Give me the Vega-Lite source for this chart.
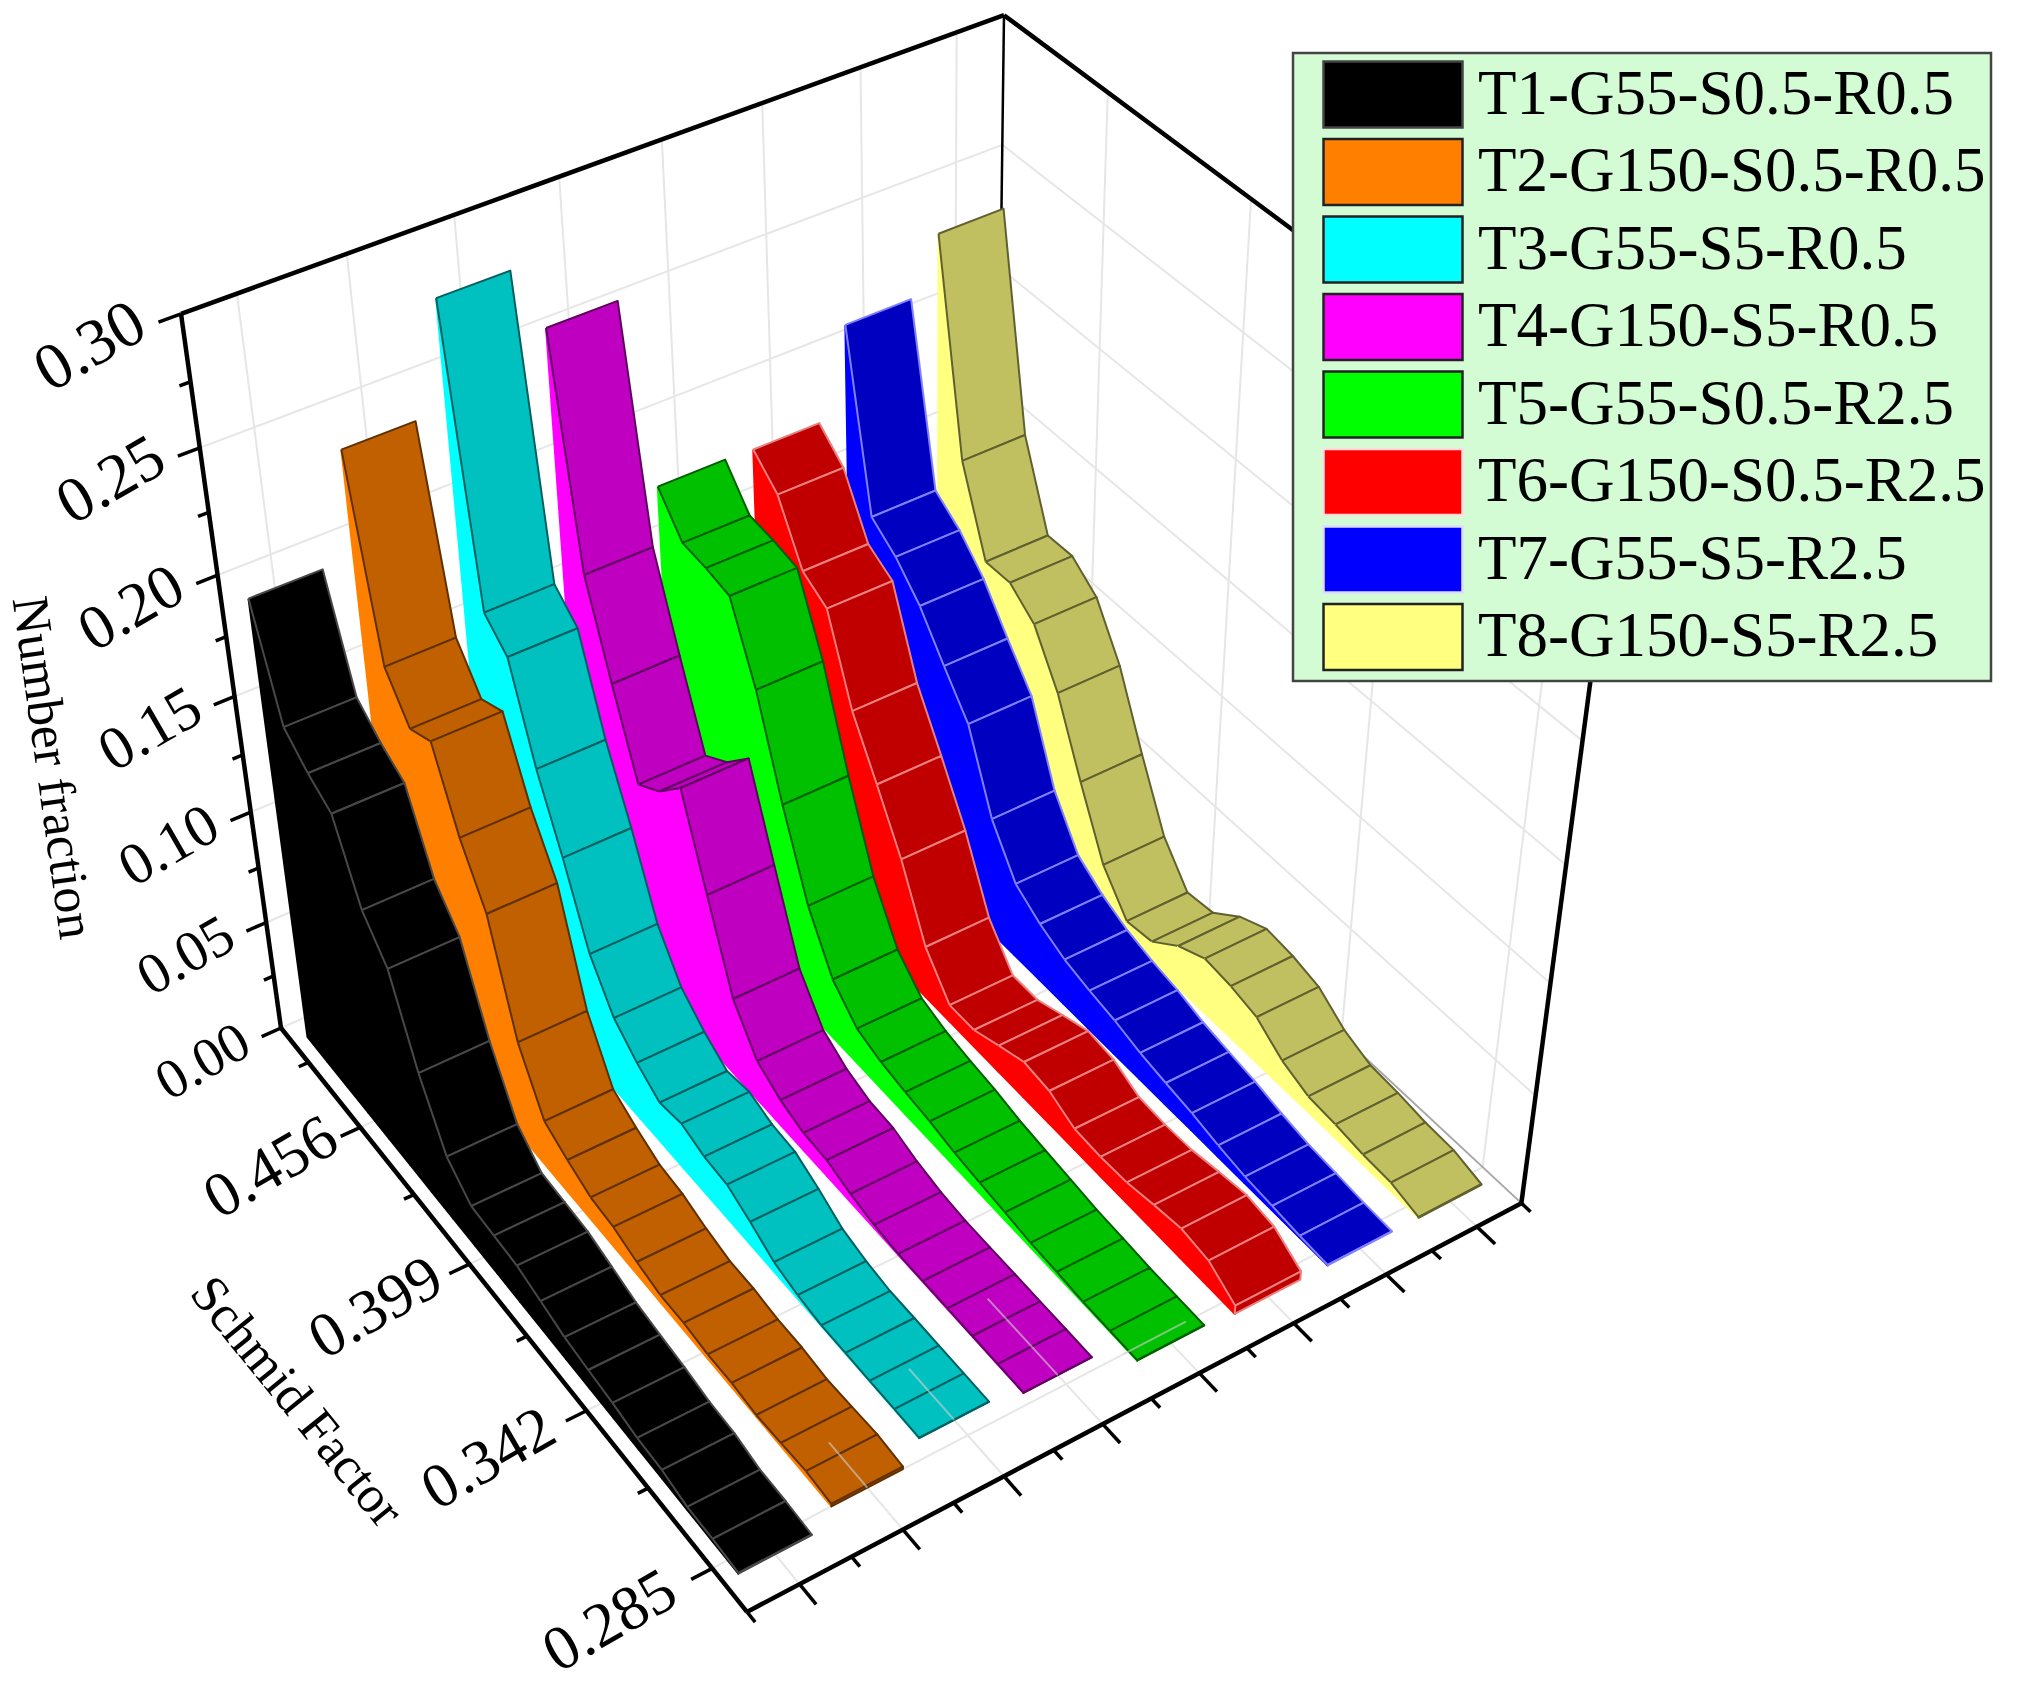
{"$schema":"https://vega.github.io/schema/vega-lite/v6.json","width":2019,"height":1686,"padding":0,"autosize":{"type":"none"},"background":"#ffffff","config":{"view":{"stroke":null},"legend":{"strokeWidth":2.5}},
"datasets":{
"ribbons":[
{"series":"T8-G150-S5-R2.5","pos":7.5,"schmid":0.4931,"fraction":0.2315},{"series":"T8-G150-S5-R2.5","pos":7.5,"schmid":0.4819,"fraction":0.1459},{"series":"T8-G150-S5-R2.5","pos":7.5,"schmid":0.4707,"fraction":0.1111},{"series":"T8-G150-S5-R2.5","pos":7.5,"schmid":0.4595,"fraction":0.1114},{"series":"T8-G150-S5-R2.5","pos":7.5,"schmid":0.4483,"fraction":0.1028},{"series":"T8-G150-S5-R2.5","pos":7.5,"schmid":0.4371,"fraction":0.0819},{"series":"T8-G150-S5-R2.5","pos":7.5,"schmid":0.4259,"fraction":0.0516},{"series":"T8-G150-S5-R2.5","pos":7.5,"schmid":0.4147,"fraction":0.0236},{"series":"T8-G150-S5-R2.5","pos":7.5,"schmid":0.4035,"fraction":0.008},{"series":"T8-G150-S5-R2.5","pos":7.5,"schmid":0.3923,"fraction":0.0096},{"series":"T8-G150-S5-R2.5","pos":7.5,"schmid":0.3811,"fraction":0.019},{"series":"T8-G150-S5-R2.5","pos":7.5,"schmid":0.3699,"fraction":0.0246},{"series":"T8-G150-S5-R2.5","pos":7.5,"schmid":0.3587,"fraction":0.0233},{"series":"T8-G150-S5-R2.5","pos":7.5,"schmid":0.3476,"fraction":0.0203},{"series":"T8-G150-S5-R2.5","pos":7.5,"schmid":0.3364,"fraction":0.0118},{"series":"T8-G150-S5-R2.5","pos":7.5,"schmid":0.3252,"fraction":0.007},{"series":"T8-G150-S5-R2.5","pos":7.5,"schmid":0.314,"fraction":0.0061},{"series":"T8-G150-S5-R2.5","pos":7.5,"schmid":0.3028,"fraction":0.0044},{"series":"T8-G150-S5-R2.5","pos":7.5,"schmid":0.2916,"fraction":0.0038},{"series":"T8-G150-S5-R2.5","pos":7.5,"schmid":0.2804,"fraction":0.0003},{"series":"T8-G150-S5-R2.5","pos":7.5,"schmid":0.2804,"fraction":0},
{"series":"T7-G55-S5-R2.5","pos":6.5,"schmid":0.4931,"fraction":0.2094},{"series":"T7-G55-S5-R2.5","pos":6.5,"schmid":0.4819,"fraction":0.1378},{"series":"T7-G55-S5-R2.5","pos":6.5,"schmid":0.4707,"fraction":0.1299},{"series":"T7-G55-S5-R2.5","pos":6.5,"schmid":0.4595,"fraction":0.1181},{"series":"T7-G55-S5-R2.5","pos":6.5,"schmid":0.4483,"fraction":0.1015},{"series":"T7-G55-S5-R2.5","pos":6.5,"schmid":0.4371,"fraction":0.0858},{"series":"T7-G55-S5-R2.5","pos":6.5,"schmid":0.4259,"fraction":0.0531},{"series":"T7-G55-S5-R2.5","pos":6.5,"schmid":0.4147,"fraction":0.0339},{"series":"T7-G55-S5-R2.5","pos":6.5,"schmid":0.4035,"fraction":0.0263},{"series":"T7-G55-S5-R2.5","pos":6.5,"schmid":0.3923,"fraction":0.021},{"series":"T7-G55-S5-R2.5","pos":6.5,"schmid":0.3811,"fraction":0.0179},{"series":"T7-G55-S5-R2.5","pos":6.5,"schmid":0.3699,"fraction":0.0156},{"series":"T7-G55-S5-R2.5","pos":6.5,"schmid":0.3587,"fraction":0.0122},{"series":"T7-G55-S5-R2.5","pos":6.5,"schmid":0.3476,"fraction":0.01},{"series":"T7-G55-S5-R2.5","pos":6.5,"schmid":0.3364,"fraction":0.008},{"series":"T7-G55-S5-R2.5","pos":6.5,"schmid":0.3252,"fraction":0.0052},{"series":"T7-G55-S5-R2.5","pos":6.5,"schmid":0.314,"fraction":0.003},{"series":"T7-G55-S5-R2.5","pos":6.5,"schmid":0.3028,"fraction":0.002},{"series":"T7-G55-S5-R2.5","pos":6.5,"schmid":0.2916,"fraction":0.0008},{"series":"T7-G55-S5-R2.5","pos":6.5,"schmid":0.2804,"fraction":0.0002},{"series":"T7-G55-S5-R2.5","pos":6.5,"schmid":0.2804,"fraction":0},
{"series":"T6-G150-S0.5-R2.5","pos":5.5,"schmid":0.4931,"fraction":0.1734},{"series":"T6-G150-S0.5-R2.5","pos":5.5,"schmid":0.4819,"fraction":0.1636},{"series":"T6-G150-S0.5-R2.5","pos":5.5,"schmid":0.4707,"fraction":0.1404},{"series":"T6-G150-S0.5-R2.5","pos":5.5,"schmid":0.4595,"fraction":0.134},{"series":"T6-G150-S0.5-R2.5","pos":5.5,"schmid":0.4483,"fraction":0.0992},{"series":"T6-G150-S0.5-R2.5","pos":5.5,"schmid":0.4371,"fraction":0.0768},{"series":"T6-G150-S0.5-R2.5","pos":5.5,"schmid":0.4259,"fraction":0.0534},{"series":"T6-G150-S0.5-R2.5","pos":5.5,"schmid":0.4147,"fraction":0.0238},{"series":"T6-G150-S0.5-R2.5","pos":5.5,"schmid":0.4035,"fraction":0.0078},{"series":"T6-G150-S0.5-R2.5","pos":5.5,"schmid":0.3923,"fraction":0.0078},{"series":"T6-G150-S0.5-R2.5","pos":5.5,"schmid":0.3811,"fraction":0.0124},{"series":"T6-G150-S0.5-R2.5","pos":5.5,"schmid":0.3699,"fraction":0.0167},{"series":"T6-G150-S0.5-R2.5","pos":5.5,"schmid":0.3587,"fraction":0.0152},{"series":"T6-G150-S0.5-R2.5","pos":5.5,"schmid":0.3476,"fraction":0.0096},{"series":"T6-G150-S0.5-R2.5","pos":5.5,"schmid":0.3364,"fraction":0.0089},{"series":"T6-G150-S0.5-R2.5","pos":5.5,"schmid":0.3252,"fraction":0.0095},{"series":"T6-G150-S0.5-R2.5","pos":5.5,"schmid":0.314,"fraction":0.0118},{"series":"T6-G150-S0.5-R2.5","pos":5.5,"schmid":0.3028,"fraction":0.0137},{"series":"T6-G150-S0.5-R2.5","pos":5.5,"schmid":0.2916,"fraction":0.0118},{"series":"T6-G150-S0.5-R2.5","pos":5.5,"schmid":0.2804,"fraction":0.0039},{"series":"T6-G150-S0.5-R2.5","pos":5.5,"schmid":0.2804,"fraction":0},
{"series":"T5-G55-S0.5-R2.5","pos":4.5,"schmid":0.4931,"fraction":0.1739},{"series":"T5-G55-S0.5-R2.5","pos":4.5,"schmid":0.482,"fraction":0.1595},{"series":"T5-G55-S0.5-R2.5","pos":4.5,"schmid":0.4708,"fraction":0.1584},{"series":"T5-G55-S0.5-R2.5","pos":4.5,"schmid":0.4597,"fraction":0.1562},{"series":"T5-G55-S0.5-R2.5","pos":4.5,"schmid":0.4485,"fraction":0.1261},{"series":"T5-G55-S0.5-R2.5","pos":4.5,"schmid":0.4374,"fraction":0.0859},{"series":"T5-G55-S0.5-R2.5","pos":4.5,"schmid":0.4263,"fraction":0.0509},{"series":"T5-G55-S0.5-R2.5","pos":4.5,"schmid":0.4152,"fraction":0.028},{"series":"T5-G55-S0.5-R2.5","pos":4.5,"schmid":0.404,"fraction":0.0166},{"series":"T5-G55-S0.5-R2.5","pos":4.5,"schmid":0.3929,"fraction":0.0127},{"series":"T5-G55-S0.5-R2.5","pos":4.5,"schmid":0.3817,"fraction":0.0106},{"series":"T5-G55-S0.5-R2.5","pos":4.5,"schmid":0.3706,"fraction":0.009},{"series":"T5-G55-S0.5-R2.5","pos":4.5,"schmid":0.3595,"fraction":0.0065},{"series":"T5-G55-S0.5-R2.5","pos":4.5,"schmid":0.3483,"fraction":0.005},{"series":"T5-G55-S0.5-R2.5","pos":4.5,"schmid":0.3372,"fraction":0.0036},{"series":"T5-G55-S0.5-R2.5","pos":4.5,"schmid":0.3261,"fraction":0.0021},{"series":"T5-G55-S0.5-R2.5","pos":4.5,"schmid":0.3149,"fraction":0.0015},{"series":"T5-G55-S0.5-R2.5","pos":4.5,"schmid":0.3038,"fraction":0.0006},{"series":"T5-G55-S0.5-R2.5","pos":4.5,"schmid":0.2926,"fraction":0.0004},{"series":"T5-G55-S0.5-R2.5","pos":4.5,"schmid":0.2815,"fraction":0.0002},{"series":"T5-G55-S0.5-R2.5","pos":4.5,"schmid":0.2815,"fraction":0},
{"series":"T4-G150-S5-R0.5","pos":3.5,"schmid":0.4931,"fraction":0.253},{"series":"T4-G150-S5-R0.5","pos":3.5,"schmid":0.4823,"fraction":0.1624},{"series":"T4-G150-S5-R0.5","pos":3.5,"schmid":0.4715,"fraction":0.1255},{"series":"T4-G150-S5-R0.5","pos":3.5,"schmid":0.4608,"fraction":0.0912},{"series":"T4-G150-S5-R0.5","pos":3.5,"schmid":0.45,"fraction":0.0984},{"series":"T4-G150-S5-R0.5","pos":3.5,"schmid":0.4392,"fraction":0.1102},{"series":"T4-G150-S5-R0.5","pos":3.5,"schmid":0.4285,"fraction":0.0731},{"series":"T4-G150-S5-R0.5","pos":3.5,"schmid":0.4177,"fraction":0.0365},{"series":"T4-G150-S5-R0.5","pos":3.5,"schmid":0.4069,"fraction":0.0189},{"series":"T4-G150-S5-R0.5","pos":3.5,"schmid":0.3961,"fraction":0.0122},{"series":"T4-G150-S5-R0.5","pos":3.5,"schmid":0.3854,"fraction":0.0085},{"series":"T4-G150-S5-R0.5","pos":3.5,"schmid":0.3746,"fraction":0.0077},{"series":"T4-G150-S5-R0.5","pos":3.5,"schmid":0.3638,"fraction":0.0039},{"series":"T4-G150-S5-R0.5","pos":3.5,"schmid":0.3531,"fraction":0.0015},{"series":"T4-G150-S5-R0.5","pos":3.5,"schmid":0.3423,"fraction":0.0004},{"series":"T4-G150-S5-R0.5","pos":3.5,"schmid":0.3315,"fraction":0.0003},{"series":"T4-G150-S5-R0.5","pos":3.5,"schmid":0.3207,"fraction":0.0003},{"series":"T4-G150-S5-R0.5","pos":3.5,"schmid":0.31,"fraction":0.0002},{"series":"T4-G150-S5-R0.5","pos":3.5,"schmid":0.2992,"fraction":0.0002},{"series":"T4-G150-S5-R0.5","pos":3.5,"schmid":0.2884,"fraction":0.0001},{"series":"T4-G150-S5-R0.5","pos":3.5,"schmid":0.2884,"fraction":0},
{"series":"T3-G55-S5-R0.5","pos":2.5,"schmid":0.4931,"fraction":0.2792},{"series":"T3-G55-S5-R0.5","pos":2.5,"schmid":0.4825,"fraction":0.1634},{"series":"T3-G55-S5-R0.5","pos":2.5,"schmid":0.4718,"fraction":0.1542},{"series":"T3-G55-S5-R0.5","pos":2.5,"schmid":0.4611,"fraction":0.1161},{"series":"T3-G55-S5-R0.5","pos":2.5,"schmid":0.4505,"fraction":0.0872},{"series":"T3-G55-S5-R0.5","pos":2.5,"schmid":0.4398,"fraction":0.0544},{"series":"T3-G55-S5-R0.5","pos":2.5,"schmid":0.4292,"fraction":0.0359},{"series":"T3-G55-S5-R0.5","pos":2.5,"schmid":0.4185,"fraction":0.0264},{"series":"T3-G55-S5-R0.5","pos":2.5,"schmid":0.4079,"fraction":0.0193},{"series":"T3-G55-S5-R0.5","pos":2.5,"schmid":0.3972,"fraction":0.0212},{"series":"T3-G55-S5-R0.5","pos":2.5,"schmid":0.3866,"fraction":0.0176},{"series":"T3-G55-S5-R0.5","pos":2.5,"schmid":0.3759,"fraction":0.0166},{"series":"T3-G55-S5-R0.5","pos":2.5,"schmid":0.3653,"fraction":0.0112},{"series":"T3-G55-S5-R0.5","pos":2.5,"schmid":0.3546,"fraction":0.0047},{"series":"T3-G55-S5-R0.5","pos":2.5,"schmid":0.3439,"fraction":0.0018},{"series":"T3-G55-S5-R0.5","pos":2.5,"schmid":0.3333,"fraction":0.0002},{"series":"T3-G55-S5-R0.5","pos":2.5,"schmid":0.3226,"fraction":0.0003},{"series":"T3-G55-S5-R0.5","pos":2.5,"schmid":0.312,"fraction":0.0002},{"series":"T3-G55-S5-R0.5","pos":2.5,"schmid":0.3013,"fraction":0.0002},{"series":"T3-G55-S5-R0.5","pos":2.5,"schmid":0.2907,"fraction":0.0001},{"series":"T3-G55-S5-R0.5","pos":2.5,"schmid":0.2907,"fraction":0},
{"series":"T2-G150-S0.5-R0.5","pos":1.5,"schmid":0.4931,"fraction":0.2367},{"series":"T2-G150-S0.5-R0.5","pos":1.5,"schmid":0.4822,"fraction":0.1583},{"series":"T2-G150-S0.5-R0.5","pos":1.5,"schmid":0.4712,"fraction":0.1422},{"series":"T2-G150-S0.5-R0.5","pos":1.5,"schmid":0.4602,"fraction":0.1471},{"series":"T2-G150-S0.5-R0.5","pos":1.5,"schmid":0.4493,"fraction":0.1162},{"series":"T2-G150-S0.5-R0.5","pos":1.5,"schmid":0.4383,"fraction":0.0938},{"series":"T2-G150-S0.5-R0.5","pos":1.5,"schmid":0.4274,"fraction":0.0472},{"series":"T2-G150-S0.5-R0.5","pos":1.5,"schmid":0.4164,"fraction":0.0225},{"series":"T2-G150-S0.5-R0.5","pos":1.5,"schmid":0.4055,"fraction":0.0164},{"series":"T2-G150-S0.5-R0.5","pos":1.5,"schmid":0.3945,"fraction":0.0113},{"series":"T2-G150-S0.5-R0.5","pos":1.5,"schmid":0.3836,"fraction":0.0099},{"series":"T2-G150-S0.5-R0.5","pos":1.5,"schmid":0.3726,"fraction":0.0062},{"series":"T2-G150-S0.5-R0.5","pos":1.5,"schmid":0.3616,"fraction":0.0036},{"series":"T2-G150-S0.5-R0.5","pos":1.5,"schmid":0.3507,"fraction":0.0036},{"series":"T2-G150-S0.5-R0.5","pos":1.5,"schmid":0.3397,"fraction":0.0022},{"series":"T2-G150-S0.5-R0.5","pos":1.5,"schmid":0.3288,"fraction":0.0022},{"series":"T2-G150-S0.5-R0.5","pos":1.5,"schmid":0.3178,"fraction":0.0008},{"series":"T2-G150-S0.5-R0.5","pos":1.5,"schmid":0.3069,"fraction":0.0015},{"series":"T2-G150-S0.5-R0.5","pos":1.5,"schmid":0.2959,"fraction":0.0024},{"series":"T2-G150-S0.5-R0.5","pos":1.5,"schmid":0.285,"fraction":0.0012},{"series":"T2-G150-S0.5-R0.5","pos":1.5,"schmid":0.285,"fraction":0},
{"series":"T1-G55-S0.5-R0.5","pos":0.5,"schmid":0.4931,"fraction":0.194},{"series":"T1-G55-S0.5-R0.5","pos":0.5,"schmid":0.4819,"fraction":0.151},{"series":"T1-G55-S0.5-R0.5","pos":0.5,"schmid":0.4707,"fraction":0.142},{"series":"T1-G55-S0.5-R0.5","pos":0.5,"schmid":0.4595,"fraction":0.1355},{"series":"T1-G55-S0.5-R0.5","pos":0.5,"schmid":0.4483,"fraction":0.105},{"series":"T1-G55-S0.5-R0.5","pos":0.5,"schmid":0.4371,"fraction":0.0906},{"series":"T1-G55-S0.5-R0.5","pos":0.5,"schmid":0.4259,"fraction":0.0556},{"series":"T1-G55-S0.5-R0.5","pos":0.5,"schmid":0.4147,"fraction":0.0294},{"series":"T1-G55-S0.5-R0.5","pos":0.5,"schmid":0.4035,"fraction":0.019},{"series":"T1-G55-S0.5-R0.5","pos":0.5,"schmid":0.3923,"fraction":0.0182},{"series":"T1-G55-S0.5-R0.5","pos":0.5,"schmid":0.3811,"fraction":0.0173},{"series":"T1-G55-S0.5-R0.5","pos":0.5,"schmid":0.3699,"fraction":0.014},{"series":"T1-G55-S0.5-R0.5","pos":0.5,"schmid":0.3587,"fraction":0.0106},{"series":"T1-G55-S0.5-R0.5","pos":0.5,"schmid":0.3476,"fraction":0.0088},{"series":"T1-G55-S0.5-R0.5","pos":0.5,"schmid":0.3364,"fraction":0.0073},{"series":"T1-G55-S0.5-R0.5","pos":0.5,"schmid":0.3252,"fraction":0.005},{"series":"T1-G55-S0.5-R0.5","pos":0.5,"schmid":0.314,"fraction":0.0043},{"series":"T1-G55-S0.5-R0.5","pos":0.5,"schmid":0.3028,"fraction":0.0015},{"series":"T1-G55-S0.5-R0.5","pos":0.5,"schmid":0.2916,"fraction":0.0013},{"series":"T1-G55-S0.5-R0.5","pos":0.5,"schmid":0.2804,"fraction":0.0003},{"series":"T1-G55-S0.5-R0.5","pos":0.5,"schmid":0.2804,"fraction":0}
],
"frame":[
{"kind":"grid","pos":0,"schmid":0.5,"fraction":0.05,"pos2":8,"schmid2":0.5,"fraction2":0.05},{"kind":"grid","pos":0,"schmid":0.5,"fraction":0.1,"pos2":8,"schmid2":0.5,"fraction2":0.1},{"kind":"grid","pos":0,"schmid":0.5,"fraction":0.15,"pos2":8,"schmid2":0.5,"fraction2":0.15},{"kind":"grid","pos":0,"schmid":0.5,"fraction":0.2,"pos2":8,"schmid2":0.5,"fraction2":0.2},{"kind":"grid","pos":0,"schmid":0.5,"fraction":0.25,"pos2":8,"schmid2":0.5,"fraction2":0.25},{"kind":"grid","pos":0,"schmid":0.5,"fraction":0,"pos2":8,"schmid2":0.5,"fraction2":0},
{"kind":"grid","pos":0.5,"schmid":0.5,"fraction":0,"pos2":0.5,"schmid2":0.5,"fraction2":0.3},{"kind":"grid","pos":1.5,"schmid":0.5,"fraction":0,"pos2":1.5,"schmid2":0.5,"fraction2":0.3},{"kind":"grid","pos":2.5,"schmid":0.5,"fraction":0,"pos2":2.5,"schmid2":0.5,"fraction2":0.3},{"kind":"grid","pos":3.5,"schmid":0.5,"fraction":0,"pos2":3.5,"schmid2":0.5,"fraction2":0.3},{"kind":"grid","pos":4.5,"schmid":0.5,"fraction":0,"pos2":4.5,"schmid2":0.5,"fraction2":0.3},{"kind":"grid","pos":5.5,"schmid":0.5,"fraction":0,"pos2":5.5,"schmid2":0.5,"fraction2":0.3},{"kind":"grid","pos":6.5,"schmid":0.5,"fraction":0,"pos2":6.5,"schmid2":0.5,"fraction2":0.3},{"kind":"grid","pos":7.5,"schmid":0.5,"fraction":0,"pos2":7.5,"schmid2":0.5,"fraction2":0.3},
{"kind":"grid","pos":8,"schmid":0.5,"fraction":0.05,"pos2":8,"schmid2":0.27,"fraction2":0.05},{"kind":"grid","pos":8,"schmid":0.5,"fraction":0.1,"pos2":8,"schmid2":0.27,"fraction2":0.1},{"kind":"grid","pos":8,"schmid":0.5,"fraction":0.15,"pos2":8,"schmid2":0.27,"fraction2":0.15},{"kind":"grid","pos":8,"schmid":0.5,"fraction":0.2,"pos2":8,"schmid2":0.27,"fraction2":0.2},{"kind":"grid","pos":8,"schmid":0.5,"fraction":0.25,"pos2":8,"schmid2":0.27,"fraction2":0.25},
{"kind":"grid","pos":8,"schmid":0.456,"fraction":0,"pos2":8,"schmid2":0.456,"fraction2":0.3},{"kind":"grid","pos":8,"schmid":0.399,"fraction":0,"pos2":8,"schmid2":0.399,"fraction2":0.3},{"kind":"grid","pos":8,"schmid":0.342,"fraction":0,"pos2":8,"schmid2":0.342,"fraction2":0.3},{"kind":"grid","pos":8,"schmid":0.285,"fraction":0,"pos2":8,"schmid2":0.285,"fraction2":0.3},
{"kind":"grid","pos":0.5,"schmid":0.5,"fraction":0,"pos2":0.5,"schmid2":0.27,"fraction2":0},{"kind":"grid","pos":1.5,"schmid":0.5,"fraction":0,"pos2":1.5,"schmid2":0.27,"fraction2":0},{"kind":"grid","pos":2.5,"schmid":0.5,"fraction":0,"pos2":2.5,"schmid2":0.27,"fraction2":0},{"kind":"grid","pos":3.5,"schmid":0.5,"fraction":0,"pos2":3.5,"schmid2":0.27,"fraction2":0},{"kind":"grid","pos":4.5,"schmid":0.5,"fraction":0,"pos2":4.5,"schmid2":0.27,"fraction2":0},{"kind":"grid","pos":5.5,"schmid":0.5,"fraction":0,"pos2":5.5,"schmid2":0.27,"fraction2":0},{"kind":"grid","pos":6.5,"schmid":0.5,"fraction":0,"pos2":6.5,"schmid2":0.27,"fraction2":0},{"kind":"grid","pos":7.5,"schmid":0.5,"fraction":0,"pos2":7.5,"schmid2":0.27,"fraction2":0},
{"kind":"grid","pos":0,"schmid":0.456,"fraction":0,"pos2":8,"schmid2":0.456,"fraction2":0},{"kind":"grid","pos":0,"schmid":0.399,"fraction":0,"pos2":8,"schmid2":0.399,"fraction2":0},{"kind":"grid","pos":0,"schmid":0.342,"fraction":0,"pos2":8,"schmid2":0.342,"fraction2":0},{"kind":"grid","pos":0,"schmid":0.285,"fraction":0,"pos2":8,"schmid2":0.285,"fraction2":0},
{"kind":"edge","pos":8,"schmid":0.5,"fraction":0,"pos2":8,"schmid2":0.27,"fraction2":0},
{"kind":"thin","pos":8,"schmid":0.5,"fraction":0,"pos2":8,"schmid2":0.5,"fraction2":0.3},
{"kind":"axis","pos":0,"schmid":0.5,"fraction":0,"pos2":0,"schmid2":0.5,"fraction2":0.3},{"kind":"axis","pos":0,"schmid":0.5,"fraction":0.3,"pos2":8,"schmid2":0.5,"fraction2":0.3},{"kind":"axis","pos":8,"schmid":0.5,"fraction":0.3,"pos2":8,"schmid2":0.27,"fraction2":0.3},{"kind":"axis","pos":8,"schmid":0.27,"fraction":0.3,"pos2":8,"schmid2":0.27,"fraction2":0},{"kind":"axis","pos":0,"schmid":0.5,"fraction":0,"pos2":0,"schmid2":0.27,"fraction2":0},{"kind":"axis","pos":0,"schmid":0.27,"fraction":0,"pos2":8,"schmid2":0.27,"fraction2":0},
{"kind":"tick","pos":0,"schmid":0.5,"fraction":0,"pos2":-0.2,"schmid2":0.5,"fraction2":0},{"kind":"tick","pos":0,"schmid":0.5,"fraction":0.05,"pos2":-0.2,"schmid2":0.5,"fraction2":0.05},{"kind":"tick","pos":0,"schmid":0.5,"fraction":0.1,"pos2":-0.2,"schmid2":0.5,"fraction2":0.1},{"kind":"tick","pos":0,"schmid":0.5,"fraction":0.15,"pos2":-0.2,"schmid2":0.5,"fraction2":0.15},{"kind":"tick","pos":0,"schmid":0.5,"fraction":0.2,"pos2":-0.2,"schmid2":0.5,"fraction2":0.2},{"kind":"tick","pos":0,"schmid":0.5,"fraction":0.25,"pos2":-0.2,"schmid2":0.5,"fraction2":0.25},{"kind":"tick","pos":0,"schmid":0.5,"fraction":0.3,"pos2":-0.2,"schmid2":0.5,"fraction2":0.3},
{"kind":"tick","pos":0,"schmid":0.5,"fraction":0.025,"pos2":-0.1,"schmid2":0.5,"fraction2":0.025},{"kind":"tick","pos":0,"schmid":0.5,"fraction":0.075,"pos2":-0.1,"schmid2":0.5,"fraction2":0.075},{"kind":"tick","pos":0,"schmid":0.5,"fraction":0.125,"pos2":-0.1,"schmid2":0.5,"fraction2":0.125},{"kind":"tick","pos":0,"schmid":0.5,"fraction":0.175,"pos2":-0.1,"schmid2":0.5,"fraction2":0.175},{"kind":"tick","pos":0,"schmid":0.5,"fraction":0.225,"pos2":-0.1,"schmid2":0.5,"fraction2":0.225},{"kind":"tick","pos":0,"schmid":0.5,"fraction":0.275,"pos2":-0.1,"schmid2":0.5,"fraction2":0.275},
{"kind":"tick","pos":0,"schmid":0.456,"fraction":0,"pos2":-0.2,"schmid2":0.456,"fraction2":0},{"kind":"tick","pos":0,"schmid":0.399,"fraction":0,"pos2":-0.2,"schmid2":0.399,"fraction2":0},{"kind":"tick","pos":0,"schmid":0.342,"fraction":0,"pos2":-0.2,"schmid2":0.342,"fraction2":0},{"kind":"tick","pos":0,"schmid":0.285,"fraction":0,"pos2":-0.2,"schmid2":0.285,"fraction2":0},
{"kind":"tick","pos":0,"schmid":0.4845,"fraction":0,"pos2":-0.1,"schmid2":0.4845,"fraction2":0},{"kind":"tick","pos":0,"schmid":0.4275,"fraction":0,"pos2":-0.1,"schmid2":0.4275,"fraction2":0},{"kind":"tick","pos":0,"schmid":0.3705,"fraction":0,"pos2":-0.1,"schmid2":0.3705,"fraction2":0},{"kind":"tick","pos":0,"schmid":0.3135,"fraction":0,"pos2":-0.1,"schmid2":0.3135,"fraction2":0},
{"kind":"tick","pos":0,"schmid":0.27,"fraction":0,"pos2":0,"schmid2":0.2665,"fraction2":0},{"kind":"tick","pos":0.5,"schmid":0.27,"fraction":0,"pos2":0.5,"schmid2":0.263,"fraction2":0},{"kind":"tick","pos":1,"schmid":0.27,"fraction":0,"pos2":1,"schmid2":0.2665,"fraction2":0},{"kind":"tick","pos":1.5,"schmid":0.27,"fraction":0,"pos2":1.5,"schmid2":0.263,"fraction2":0},{"kind":"tick","pos":2,"schmid":0.27,"fraction":0,"pos2":2,"schmid2":0.2665,"fraction2":0},{"kind":"tick","pos":2.5,"schmid":0.27,"fraction":0,"pos2":2.5,"schmid2":0.263,"fraction2":0},{"kind":"tick","pos":3,"schmid":0.27,"fraction":0,"pos2":3,"schmid2":0.2665,"fraction2":0},{"kind":"tick","pos":3.5,"schmid":0.27,"fraction":0,"pos2":3.5,"schmid2":0.263,"fraction2":0},{"kind":"tick","pos":4,"schmid":0.27,"fraction":0,"pos2":4,"schmid2":0.2665,"fraction2":0},{"kind":"tick","pos":4.5,"schmid":0.27,"fraction":0,"pos2":4.5,"schmid2":0.263,"fraction2":0},{"kind":"tick","pos":5,"schmid":0.27,"fraction":0,"pos2":5,"schmid2":0.2665,"fraction2":0},{"kind":"tick","pos":5.5,"schmid":0.27,"fraction":0,"pos2":5.5,"schmid2":0.263,"fraction2":0},{"kind":"tick","pos":6,"schmid":0.27,"fraction":0,"pos2":6,"schmid2":0.2665,"fraction2":0},{"kind":"tick","pos":6.5,"schmid":0.27,"fraction":0,"pos2":6.5,"schmid2":0.263,"fraction2":0},{"kind":"tick","pos":7,"schmid":0.27,"fraction":0,"pos2":7,"schmid2":0.2665,"fraction2":0},{"kind":"tick","pos":7.5,"schmid":0.27,"fraction":0,"pos2":7.5,"schmid2":0.263,"fraction2":0},{"kind":"tick","pos":8,"schmid":0.27,"fraction":0,"pos2":8,"schmid2":0.2665,"fraction2":0}
],
"overlay":[
{"pos":1.5,"schmid":0.3015,"fraction":0,"pos2":1.5,"schmid2":0.285,"fraction2":0},{"pos":2.5,"schmid":0.31,"fraction":0,"pos2":2.5,"schmid2":0.2907,"fraction2":0},{"pos":3.5,"schmid":0.318,"fraction":0,"pos2":3.5,"schmid2":0.2884,"fraction2":0},{"pos":4.1,"schmid":0.285,"fraction":0,"pos2":4.75,"schmid2":0.285,"fraction2":0}
],
"tickLabels":[
{"label":"0.30","pos":-0.8,"schmid":0.5,"fraction":0.3},{"label":"0.25","pos":-0.8,"schmid":0.5,"fraction":0.25},{"label":"0.20","pos":-0.8,"schmid":0.5,"fraction":0.2},{"label":"0.15","pos":-0.8,"schmid":0.5,"fraction":0.15},{"label":"0.10","pos":-0.8,"schmid":0.5,"fraction":0.1},{"label":"0.05","pos":-0.8,"schmid":0.5,"fraction":0.05},{"label":"0.00","pos":-0.8,"schmid":0.5,"fraction":0}
],
"schmidLabels":[
{"label":"0.456","pos":-0.9,"schmid":0.456,"fraction":0},{"label":"0.399","pos":-0.92,"schmid":0.399,"fraction":0},{"label":"0.342","pos":-0.94,"schmid":0.342,"fraction":0},{"label":"0.285","pos":-0.96,"schmid":0.285,"fraction":0}
],
"title1":[{"label":"Number fraction","pos":-1.72,"schmid":0.5,"fraction":0.151}],
"title2":[{"label":"Schmid Factor","pos":-1.98,"schmid":0.3832,"fraction":0}]
},
"encoding":{
"x":{"field":"px","type":"quantitative","axis":null,"scale":{"domain":[0,2019],"nice":false,"zero":false}},
"y":{"field":"py","type":"quantitative","axis":null,"scale":{"domain":[1686,0],"nice":false,"zero":false}}
},
"layer":[
{"data":{"name":"frame"},
"transform":[
{"calculate":"(281+794*datum.pos/8+366.8*(0.5-datum.schmid)/0.23-124.1*datum.fraction/0.3)/(1+0.08045*datum.pos/8-0.13276*(0.5-datum.schmid)/0.23-0.13333*datum.fraction/0.3)","as":"px"},
{"calculate":"(1028-257.7*datum.pos/8+369.9*(0.5-datum.schmid)/0.23-755.9*datum.fraction/0.3)/(1+0.08045*datum.pos/8-0.13276*(0.5-datum.schmid)/0.23-0.13333*datum.fraction/0.3)","as":"py"},
{"calculate":"(281+794*datum.pos2/8+366.8*(0.5-datum.schmid2)/0.23-124.1*datum.fraction2/0.3)/(1+0.08045*datum.pos2/8-0.13276*(0.5-datum.schmid2)/0.23-0.13333*datum.fraction2/0.3)","as":"px2"},
{"calculate":"(1028-257.7*datum.pos2/8+369.9*(0.5-datum.schmid2)/0.23-755.9*datum.fraction2/0.3)/(1+0.08045*datum.pos2/8-0.13276*(0.5-datum.schmid2)/0.23-0.13333*datum.fraction2/0.3)","as":"py2"}
],
"mark":{"type":"rule"},
"encoding":{
"x2":{"field":"px2"},"y2":{"field":"py2"},
"stroke":{"field":"kind","type":"nominal","legend":null,"scale":{"domain":["grid","edge","thin","axis","tick"],"range":["#e6e6e6","#a8a8a8","#000000","#000000","#000000"]}},
"strokeWidth":{"condition":[{"test":"datum.kind=='axis'","value":4.5},{"test":"datum.kind=='tick'","value":3.5},{"test":"datum.kind=='thin'","value":2.5}],"value":2}
}},
{"data":{"name":"ribbons"},
"transform":[
{"window":[{"op":"lead","field":"schmid","as":"nextSchmid"},{"op":"lead","field":"fraction","as":"nextFraction"}],"groupby":["series"],"sort":[{"field":"schmid","order":"descending"},{"field":"fraction","order":"descending"}]},
{"filter":"isValid(datum.nextSchmid)"},
{"calculate":"[0,1]","as":"face"},{"flatten":["face"]},
{"calculate":"[0,1,2,3,4]","as":"corner"},{"flatten":["corner"]},
{"calculate":"datum.face==1?(datum.corner==2||datum.corner==3):(datum.corner==1||datum.corner==2)","as":"useNext"},
{"calculate":"(datum.pos+((datum.face==1&&(datum.corner==1||datum.corner==2))?0.352:-0.352))/8","as":"s"},
{"calculate":"(0.5-(datum.useNext?datum.nextSchmid:datum.schmid))/0.23","as":"f"},
{"calculate":"(datum.face==0&&(datum.corner==2||datum.corner==3))?0:(datum.useNext?datum.nextFraction:datum.fraction)/0.3","as":"z"},
{"calculate":"1+0.08045*datum.s-0.13276*datum.f-0.13333*datum.z","as":"w"},
{"calculate":"(281+794*datum.s+366.8*datum.f-124.1*datum.z)/datum.w","as":"px"},
{"calculate":"(1028-257.7*datum.s+369.9*datum.f-755.9*datum.z)/datum.w","as":"py"},
{"calculate":"slice(datum.series,0,2)+(datum.face==1?'top':'side')","as":"faceKey"},
{"calculate":"datum.series+'|'+datum.schmid+'|'+datum.fraction+'|'+datum.face","as":"cell"}
],
"mark":{"type":"line","strokeWidth":2,"strokeJoin":"round"},
"encoding":{
"detail":{"field":"cell","type":"nominal"},
"order":{"field":"corner","type":"quantitative"},
"fill":{"field":"faceKey","type":"nominal","legend":null,"scale":{"domain":["T1side","T2side","T3side","T4side","T5side","T6side","T7side","T8side","T1top","T2top","T3top","T4top","T5top","T6top","T7top","T8top"],"range":["#000000","#ff8000","#00ffff","#ff00ff","#00ff00","#ff0000","#0000ff","#ffff80","#000000","#c06000","#00c0c0","#c000c0","#00c000","#c00000","#0000c0","#c0c060"]}},
"stroke":{"field":"faceKey","type":"nominal","legend":null,"scale":{"domain":["T1side","T2side","T3side","T4side","T5side","T6side","T7side","T8side","T1top","T2top","T3top","T4top","T5top","T6top","T7top","T8top"],"range":["#000000","#ff8000","#00ffff","#ff00ff","#00ff00","#ff0000","#0000ff","#ffff80","#484848","#603000","#006060","#600060","#006000","#e88080","#8080ff","#606030"]}}
}},
{"data":{"name":"overlay"},
"transform":[
{"calculate":"(281+794*datum.pos/8+366.8*(0.5-datum.schmid)/0.23)/(1+0.08045*datum.pos/8-0.13276*(0.5-datum.schmid)/0.23)","as":"px"},
{"calculate":"(1028-257.7*datum.pos/8+369.9*(0.5-datum.schmid)/0.23)/(1+0.08045*datum.pos/8-0.13276*(0.5-datum.schmid)/0.23)","as":"py"},
{"calculate":"(281+794*datum.pos2/8+366.8*(0.5-datum.schmid2)/0.23)/(1+0.08045*datum.pos2/8-0.13276*(0.5-datum.schmid2)/0.23)","as":"px2"},
{"calculate":"(1028-257.7*datum.pos2/8+369.9*(0.5-datum.schmid2)/0.23)/(1+0.08045*datum.pos2/8-0.13276*(0.5-datum.schmid2)/0.23)","as":"py2"}
],
"mark":{"type":"rule","stroke":"#d0d0d0","strokeWidth":2,"opacity":0.6},
"encoding":{"x2":{"field":"px2"},"y2":{"field":"py2"}}},
{"data":{"name":"tickLabels"},
"transform":[
{"calculate":"(281+794*datum.pos/8+366.8*(0.5-datum.schmid)/0.23-124.1*datum.fraction/0.3)/(1+0.08045*datum.pos/8-0.13276*(0.5-datum.schmid)/0.23-0.13333*datum.fraction/0.3)","as":"px"},
{"calculate":"(1028-257.7*datum.pos/8+369.9*(0.5-datum.schmid)/0.23-755.9*datum.fraction/0.3)/(1+0.08045*datum.pos/8-0.13276*(0.5-datum.schmid)/0.23-0.13333*datum.fraction/0.3)","as":"py"}
],
"mark":{"type":"text","font":"Liberation Serif","angle":330,"align":"center","baseline":"middle","color":"#000000"},
"encoding":{"text":{"field":"label"},"size":{"field":"fraction","type":"quantitative","legend":null,"scale":{"domain":[0,0.3],"range":[56,66]}}}},
{"data":{"name":"schmidLabels"},
"transform":[
{"calculate":"(281+794*datum.pos/8+366.8*(0.5-datum.schmid)/0.23)/(1+0.08045*datum.pos/8-0.13276*(0.5-datum.schmid)/0.23)","as":"px"},
{"calculate":"(1028-257.7*datum.pos/8+369.9*(0.5-datum.schmid)/0.23)/(1+0.08045*datum.pos/8-0.13276*(0.5-datum.schmid)/0.23)","as":"py"}
],
"mark":{"type":"text","font":"Liberation Serif","fontSize":63,"angle":330,"align":"center","baseline":"middle","color":"#000000"},
"encoding":{"text":{"field":"label"}}},
{"data":{"name":"title1"},
"transform":[
{"calculate":"(281+794*datum.pos/8+366.8*(0.5-datum.schmid)/0.23-124.1*datum.fraction/0.3)/(1+0.08045*datum.pos/8-0.13276*(0.5-datum.schmid)/0.23-0.13333*datum.fraction/0.3)","as":"px"},
{"calculate":"(1028-257.7*datum.pos/8+369.9*(0.5-datum.schmid)/0.23-755.9*datum.fraction/0.3)/(1+0.08045*datum.pos/8-0.13276*(0.5-datum.schmid)/0.23-0.13333*datum.fraction/0.3)","as":"py"}
],
"mark":{"type":"text","font":"Liberation Serif","fontSize":52,"angle":82,"align":"center","baseline":"middle","color":"#000000"},
"encoding":{"text":{"field":"label"}}},
{"data":{"name":"title2"},
"transform":[
{"calculate":"(281+794*datum.pos/8+366.8*(0.5-datum.schmid)/0.23)/(1+0.08045*datum.pos/8-0.13276*(0.5-datum.schmid)/0.23)","as":"px"},
{"calculate":"(1028-257.7*datum.pos/8+369.9*(0.5-datum.schmid)/0.23)/(1+0.08045*datum.pos/8-0.13276*(0.5-datum.schmid)/0.23)","as":"py"}
],
"mark":{"type":"text","font":"Liberation Serif","fontSize":52,"angle":51,"align":"center","baseline":"middle","color":"#000000"},
"encoding":{"text":{"field":"label"}}},
{"data":{"name":"ribbons"},
"mark":{"type":"point","filled":true,"size":0,"opacity":1},
"encoding":{
"x":{"datum":0,"type":"quantitative"},"y":{"datum":0,"type":"quantitative"},
"fill":{"field":"series","type":"nominal","scale":{"domain":["T1-G55-S0.5-R0.5","T2-G150-S0.5-R0.5","T3-G55-S5-R0.5","T4-G150-S5-R0.5","T5-G55-S0.5-R2.5","T6-G150-S0.5-R2.5","T7-G55-S5-R2.5","T8-G150-S5-R2.5"],"range":["#000000","#ff8000","#00ffff","#ff00ff","#00ff00","#ff0000","#0000ff","#ffff80"]},
"legend":{"title":null,"orient":"none","legendX":1293,"legendY":53,"zindex":5,"fillColor":"#d4fcd4","strokeColor":"#444444","padding":5,"symbolType":"M-0.314,-0.943H3.657V0.943H-0.314Z","symbolSize":4900,"symbolStrokeWidth":2.5,"symbolOpacity":1,"labelFont":"Liberation Serif","labelFontSize":63,"labelColor":"#000000","labelOffset":107,"labelLimit":0,"rowPadding":0.5}},
"stroke":{"field":"series","type":"nominal","scale":{"domain":["T1-G55-S0.5-R0.5","T2-G150-S0.5-R0.5","T3-G55-S5-R0.5","T4-G150-S5-R0.5","T5-G55-S0.5-R2.5","T6-G150-S0.5-R2.5","T7-G55-S5-R2.5","T8-G150-S5-R2.5"],"range":["#444444","#222222","#222222","#222222","#222222","#ffdddd","#ddddff","#222222"]}}
}}
],
"resolve":{"scale":{"fill":"independent","stroke":"independent"}}
}
